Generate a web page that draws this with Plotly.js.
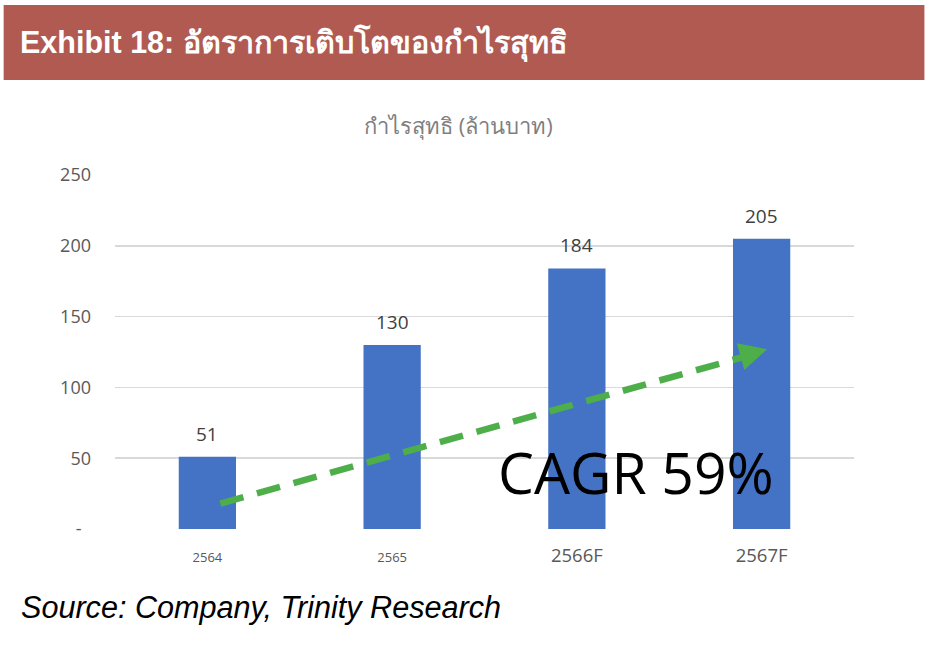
<!DOCTYPE html>
<html><head><meta charset="utf-8">
<script src="https://cdn.plot.ly/plotly-3.0.1.min.js"></script>
<style>html,body{margin:0;padding:0;background:#fff}</style>
</head><body><div id="chart" style="width:928px;height:662px"></div>
<script>
const categories = ['2564', '2565', '2566F', '2567F'];
const tickLabels = ['<span style="font-size:13px">2564</span>', '<span style="font-size:13px">2565</span>', '2566F', '2567F'];
const profit = [51, 130, 184, 205];
const yTicks = [0, 50, 100, 150, 200, 250];
const yTickText = ['-&nbsp;&nbsp;', '50', '100', '150', '200', '250'];
const trendStart = [0.07, 18];
const trendEnd = [2.97, 124];

const W = 928, H = 662;
const L = 114.5, R = 854.5, T = 175, B = 529;
const px = x => (x - L) / (R - L);
const py = y => (B - y) / (B - T);

const green = '#4EAE4A';
const trace = {
  type: 'bar', x: categories.map((c,i)=>i), y: profit, width: 0.31,
  marker: {color: '#4472C4'}, hoverinfo: 'skip'
};
const dataLabels = profit.map((v,i)=>({
  xref: 'x', yref: 'y', x: i, y: v, yshift: 23, xanchor: 'center', yanchor: 'middle',
  showarrow: false, text: String(v),
  font: {family: 'Open Sans, Noto Sans, sans-serif', size: 19, color: '#404040'}
}));
const layout = {
  width: W, height: H,
  margin: {l: L, r: W - R, t: T, b: H - B, pad: 0},
  paper_bgcolor: '#fff', plot_bgcolor: '#fff',
  showlegend: false,
  font: {family: 'Open Sans, Noto Sans, sans-serif', color: '#595959'},
  xaxis: {range: [-0.5, 3.5], tickvals: [0,1,2,3], ticktext: tickLabels, showgrid: false,
          zeroline: false, showline: false, ticks: '', ticklabelstandoff: 13,
          tickfont: {size: 18.5, color: '#595959'}},
  yaxis: {range: [0, 250], tickvals: yTicks, ticktext: yTickText, showgrid: true,
          gridcolor: '#D9D9D9', gridwidth: 1.5, zeroline: false, showline: false, ticks: '',
          ticklabelstandoff: 23, tickfont: {size: 18, color: '#595959'}},
  shapes: [
    {type: 'rect', xref: 'paper', yref: 'paper', x0: px(3), x1: px(925), y0: py(80), y1: py(5),
     fillcolor: '#B05A52', line: {width: 0}, layer: 'below'},
    {type: 'line', xref: 'x', yref: 'y', x0: trendStart[0], y0: trendStart[1], x1: trendEnd[0], y1: trendEnd[1],
     line: {color: green, width: 6.5, dash: '24px,14px'}}
  ],
  annotations: dataLabels.concat([
    {xref: 'paper', yref: 'paper', x: px(17), y: py(43), xanchor: 'left', yanchor: 'middle', showarrow: false,
     text: '<b>Exhibit 18: อัตราการเติบโตของกำไรสุทธิ</b>',
     font: {family: 'Liberation Sans, Arial, sans-serif', size: 30.5, color: '#ffffff'}},
    {xref: 'paper', yref: 'paper', x: px(458), y: py(125), xanchor: 'center', yanchor: 'middle', showarrow: false,
     text: 'กำไรสุทธิ (ล้านบาท)', font: {size: 22, color: '#7F7F7F'}},
    {xref: 'x', yref: 'y', x: 3.03, y: 127, ax: -22, ay: 6.2, axref: 'pixel', ayref: 'pixel',
     showarrow: true, arrowhead: 2, arrowsize: 0.85, arrowwidth: 6.5, arrowcolor: green, text: ''},
    {xref: 'paper', yref: 'paper', x: px(636), y: py(472), xanchor: 'center', yanchor: 'middle', showarrow: false,
     text: 'CAGR 59%', font: {family: 'Open Sans, sans-serif', size: 57, color: '#000000'}},
    {xref: 'paper', yref: 'paper', x: px(18), y: py(607), xanchor: 'left', yanchor: 'middle', showarrow: false,
     text: '<i>Source: Company, Trinity Research</i>',
     font: {family: 'Liberation Sans, Arial, sans-serif', size: 30.6, color: '#000000'}}
  ])
};
Plotly.newPlot('chart', [trace], layout, {displayModeBar: false, staticPlot: true});
</script></body></html>
